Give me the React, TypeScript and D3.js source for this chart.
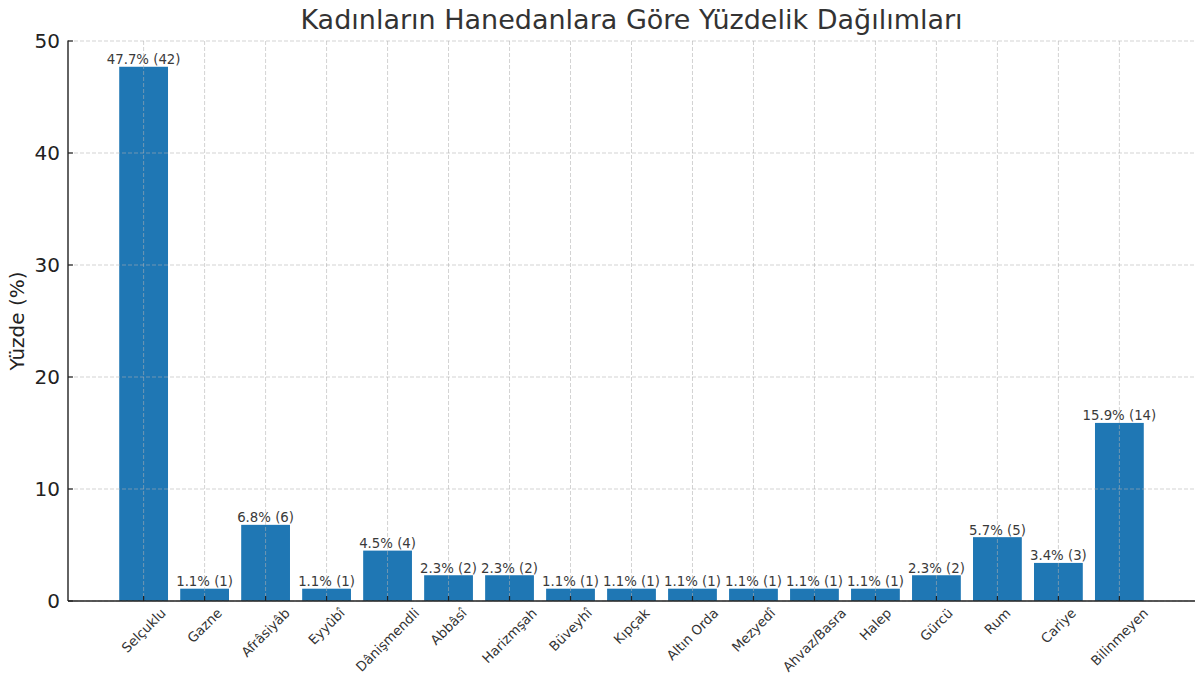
import * as d3 from "d3";
import { useEffect, useRef } from "react";

const categories = [
  "Selçuklu", "Gazne", "Afrâsiyâb", "Eyyûbî", "Dânişmendli", "Abbâsî",
  "Harizmşah", "Büveyhî", "Kıpçak", "Altın Orda", "Mezyedî", "Ahvaz/Basra",
  "Halep", "Gürcü", "Rum", "Cariye", "Bilinmeyen",
];
const percents = [47.7, 1.1, 6.8, 1.1, 4.5, 2.3, 2.3, 1.1, 1.1, 1.1, 1.1, 1.1, 1.1, 2.3, 5.7, 3.4, 15.9];
const counts = [42, 1, 6, 1, 4, 2, 2, 1, 1, 1, 1, 1, 1, 2, 5, 3, 14];
const yTicks = [0, 10, 20, 30, 40, 50];

export default function App() {
  const ref = useRef<SVGSVGElement | null>(null);

  useEffect(() => {
    const width = 1198;
    const height = 677;
    const margin = { top: 41, right: 3, bottom: 76, left: 68 };
    const font = "DejaVu Sans, sans-serif";

    const svg = d3.select(ref.current);
    svg.selectAll("*").remove();

    const innerW = width - margin.left - margin.right;
    const innerH = height - margin.top - margin.bottom;

    // matplotlib style: bars width 0.8, 5% margins
    const n = categories.length;
    const lo = -0.4 - 0.05 * (n - 1 + 0.8);
    const hi = n - 1 + 0.4 + 0.05 * (n - 1 + 0.8);
    const xIdx = d3.scaleLinear().domain([lo, hi]).range([0, innerW]);
    const y = d3.scaleLinear().domain([0, 50]).range([innerH, 0]);

    const g = svg.append("g").attr("transform", `translate(${margin.left},${margin.top})`);

    // bars
    g.selectAll("rect.bar")
      .data(percents)
      .join("rect")
      .attr("class", "bar")
      .attr("x", (_, i) => xIdx(i - 0.4))
      .attr("width", xIdx(0.8) - xIdx(0))
      .attr("y", (d) => y(d))
      .attr("height", (d) => innerH - y(d))
      .attr("fill", "#1f77b4");

    // grid on top
    const grid = g.append("g").attr("stroke", "#b0b0b0").attr("stroke-opacity", 0.7)
      .attr("stroke-dasharray", "4,2").attr("stroke-width", 0.8);
    grid.selectAll("line.h").data(yTicks).join("line")
      .attr("x1", 0).attr("x2", innerW)
      .attr("y1", (d) => y(d)).attr("y2", (d) => y(d));
    grid.selectAll("line.v").data(categories).join("line")
      .attr("x1", (_, i) => xIdx(i)).attr("x2", (_, i) => xIdx(i))
      .attr("y1", 0).attr("y2", innerH);

    // bar labels
    g.selectAll("text.lbl")
      .data(percents)
      .join("text")
      .attr("x", (_, i) => xIdx(i))
      .attr("y", (d) => y(d) - 2.5)
      .attr("text-anchor", "middle")
      .attr("font-family", font)
      .attr("font-size", 13.3)
      .attr("fill", "#3a3a3a")
      .text((d, i) => `${d.toFixed(1)}% (${counts[i]})`);

    // spines
    g.append("line").attr("x1", 0).attr("x2", 0).attr("y1", -0.5).attr("y2", innerH)
      .attr("stroke", "#222").attr("stroke-width", 1.4);
    g.append("line").attr("x1", 0).attr("x2", innerW).attr("y1", innerH).attr("y2", innerH)
      .attr("stroke", "#222").attr("stroke-width", 1.4);

    // y ticks (inward)
    g.selectAll("line.yt").data(yTicks).join("line")
      .attr("x1", 0).attr("x2", 5).attr("y1", (d) => y(d)).attr("y2", (d) => y(d))
      .attr("stroke", "#222").attr("stroke-width", 1.2);
    g.selectAll("text.yt").data(yTicks).join("text")
      .attr("x", -8).attr("y", (d) => y(d)).attr("dy", "0.36em")
      .attr("text-anchor", "end").attr("font-family", font).attr("font-size", 20)
      .attr("fill", "#222").text((d) => d);

    // x ticks (inward)
    g.selectAll("line.xt").data(categories).join("line")
      .attr("x1", (_, i) => xIdx(i)).attr("x2", (_, i) => xIdx(i))
      .attr("y1", innerH).attr("y2", innerH - 5)
      .attr("stroke", "#222").attr("stroke-width", 1.2);

    // x labels rotated 45, centered on tick
    const labelTop = innerH + 5;
    const fs = 13.3;
    categories.forEach((c, i) => {
      const t = g.append("text")
        .attr("text-anchor", "middle")
        .attr("font-family", font)
        .attr("font-size", fs)
        .attr("fill", "#333")
        .text(c);
      const node = t.node() as SVGTextElement;
      const w = node.getComputedTextLength();
      const half = (w + fs) / (2 * Math.SQRT2);
      const cx = xIdx(i);
      const cy = labelTop + half;
      t.attr("transform", `translate(${cx},${cy}) rotate(-45)`).attr("dy", "0.35em");
    });

    // title
    svg.append("text")
      .attr("x", margin.left + innerW / 2)
      .attr("y", 29)
      .attr("text-anchor", "middle")
      .attr("font-family", font)
      .attr("font-size", 27)
      .attr("fill", "#333")
      .text("Kadınların Hanedanlara Göre Yüzdelik Dağılımları");

    // y label
    svg.append("text")
      .attr("transform", `translate(24,${margin.top + innerH / 2}) rotate(-90)`)
      .attr("text-anchor", "middle")
      .attr("font-family", font)
      .attr("font-size", 20)
      .attr("fill", "#222")
      .text("Yüzde (%)");
  }, []);

  return (
    <svg
      ref={ref}
      width={1198}
      height={677}
      style={{ position: "absolute", left: 0, top: 0, background: "#fff" }}
    />
  );
}
